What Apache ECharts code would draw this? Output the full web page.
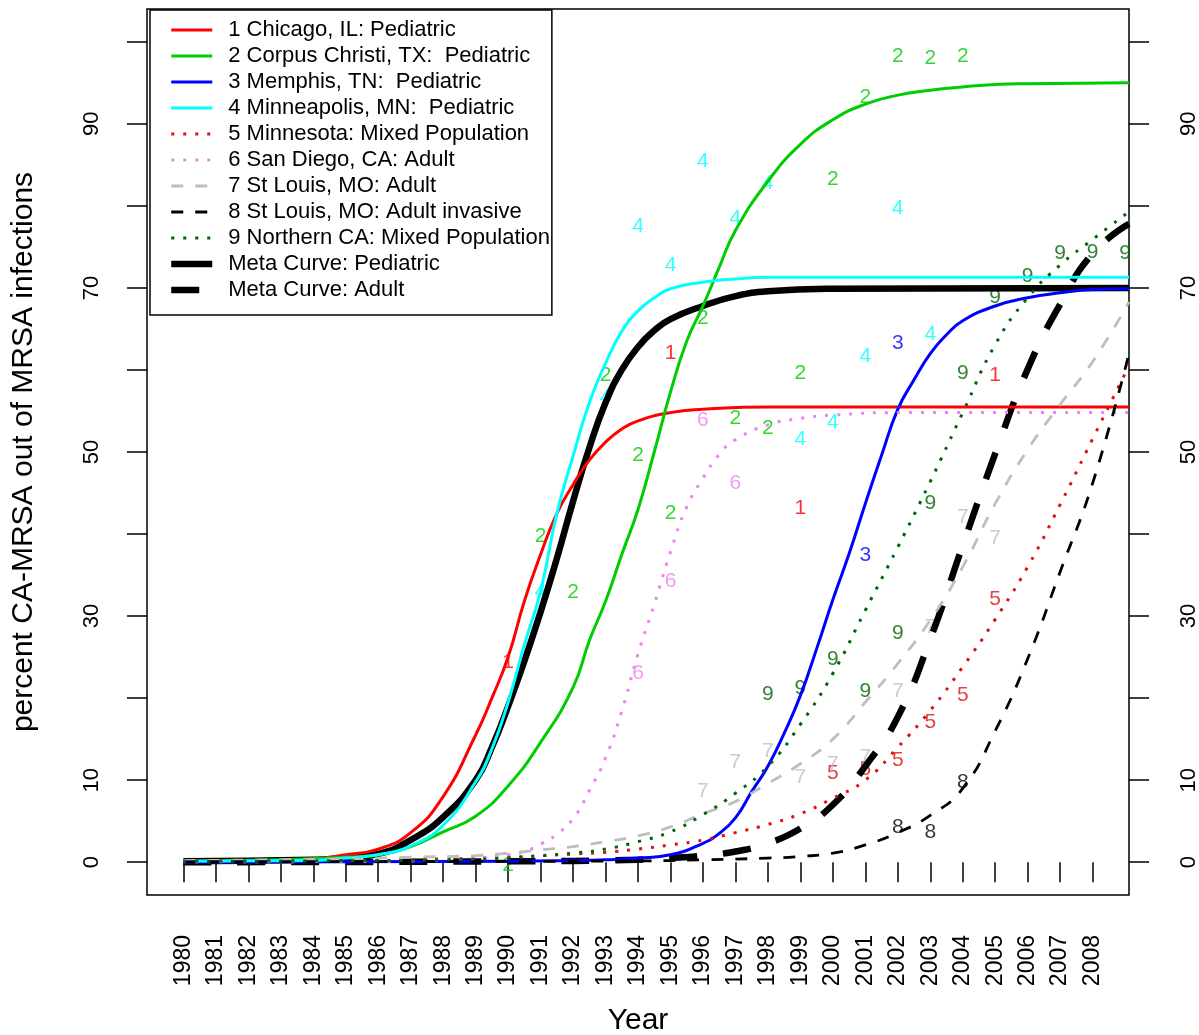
<!DOCTYPE html>
<html>
<head>
<meta charset="utf-8">
<script src="https://cdn.jsdelivr.net/npm/echarts@6/dist/echarts.min.js"></script>
<style>
  html, body { margin: 0; padding: 0; background: #fff; }
  #chart { width: 1199px; height: 1035px; }
</style>
</head>
<body>
<div id="chart"></div>
<script>
// ---- tick labels ----
const yearTicks = [1980,1981,1982,1983,1984,1985,1986,1987,1988,1989,1990,1991,1992,1993,1994,1995,1996,1997,1998,1999,2000,2001,2002,2003,2004,2005,2006,2007,2008];
const yTickValues = [0,10,20,30,40,50,60,70,80,90,100];
const yLabelValues = [0,10,30,50,70,90];

// ---- series names ----
const names = [
  '1 Chicago, IL: Pediatric',
  '2 Corpus Christi, TX:  Pediatric',
  '3 Memphis, TN:  Pediatric',
  '4 Minneapolis, MN:  Pediatric',
  '5 Minnesota: Mixed Population',
  '6 San Diego, CA: Adult',
  '7 St Louis, MO: Adult',
  '8 St Louis, MO: Adult invasive',
  '9 Northern CA: Mixed Population',
  'Meta Curve: Pediatric',
  'Meta Curve: Adult'
];

// ---- fitted curves (year, percent) ----
const curve1 = [[1980,0.1],[1982,0.15],[1984,0.4],[1985,0.9],[1986,1.6],[1987,3.6],[1988,8],[1989,15.5],[1989.5,20],[1990,25],[1990.5,31.8],[1991,37.5],[1991.5,42.5],[1992,46],[1992.5,49],[1993,51.2],[1993.5,52.8],[1994,53.8],[1995,54.8],[1996,55.2],[1998,55.5],[2000,55.5],[2009.12,55.5]];
const curve2 = [[1980,0.1],[1983,0.3],[1985,0.6],[1986,0.9],[1987,1.9],[1988,3.7],[1989,5.6],[1990,9.3],[1991,14.6],[1992,21.3],[1992.5,27],[1993,31.8],[1993.5,37.5],[1994,43],[1994.5,50],[1995,57.3],[1995.5,63.5],[1996,67.8],[1996.5,72.5],[1997,77],[1998,83],[1999,87.5],[2000,90.5],[2001,92.4],[2002,93.5],[2003,94.1],[2004,94.5],[2005,94.8],[2006,94.9],[2009.12,95]];
const curve3 = [[1980,0],[1990,0.1],[1992,0.2],[1993,0.3],[1994,0.5],[1995,0.9],[1996,2.3],[1996.5,3.5],[1997,5.4],[1997.5,8.6],[1998,11.7],[1998.5,15.7],[1999,20.3],[1999.5,26],[2000,32],[2000.5,37.6],[2001,43.7],[2001.5,49.6],[2002,55.2],[2002.5,58.8],[2003,62],[2003.5,64.3],[2004,66],[2005,67.8],[2006,68.8],[2007,69.4],[2008,69.8],[2009.12,69.9]];
const curve4 = [[1980,0.1],[1984,0.2],[1985,0.5],[1986,0.9],[1987,2],[1988,4.5],[1989,9.8],[1989.5,13.8],[1990,19.5],[1990.5,26.5],[1991,33],[1991.5,42.5],[1992,49.5],[1992.5,56],[1993,60.8],[1993.5,64.7],[1994,67.2],[1994.5,68.8],[1995,69.9],[1996,70.7],[1997,71.1],[1998,71.3],[2009.12,71.3]];
const curve5 = [[1980,0.1],[1986,0.2],[1988,0.4],[1990,0.6],[1992,1.0],[1993,1.2],[1994,1.6],[1995,2.1],[1996,2.7],[1997,3.6],[1998,4.6],[1999,5.9],[2000,7.8],[2001,10.0],[2002,14.0],[2003,18.5],[2004,23.8],[2005,29.6],[2006,36.0],[2007,43.6],[2008,51.6],[2009.12,60.5]];
const curve6 = [[1980,0.05],[1986,0.1],[1988,0.3],[1989,0.5],[1990,0.9],[1990.5,1.3],[1991,2.2],[1991.5,3.4],[1992,5.3],[1992.5,8.7],[1993,12.7],[1993.5,18.4],[1994,25.4],[1994.5,31.4],[1995,37.8],[1995.5,43.3],[1996,46.8],[1996.5,49.7],[1997,51.5],[1998,53.3],[1999,54.1],[2000,54.5],[2002,54.8],[2009.12,54.8]];
const curve7 = [[1980,0.2],[1985,0.4],[1987,0.6],[1989,0.8],[1990,1.1],[1991,1.5],[1992,1.9],[1993,2.5],[1994,3.2],[1995,4.3],[1996,5.9],[1997,7.4],[1998,9.6],[1999,12.0],[2000,15.0],[2001,19.5],[2002,24.2],[2003,29.5],[2004,36.0],[2005,43.7],[2006,50.3],[2007,55.8],[2008,61.0],[2009.12,68.3]];
const curve8 = [[1980,0.05],[1990,0.1],[1994,0.15],[1996,0.3],[1998,0.5],[1999,0.7],[2000,1.1],[2001,2.1],[2002,3.6],[2003,5.7],[2004,9.0],[2005,16.0],[2006,24.8],[2007,35.4],[2008,46.2],[2009.12,62]];
const curve9 = [[1980,0.1],[1986,0.2],[1988,0.3],[1990,0.5],[1991,0.8],[1992,1.1],[1993,1.6],[1994,2.5],[1995,3.7],[1996,5.8],[1997,8.4],[1998,11.7],[1999,16.8],[2000,23.0],[2001,30.7],[2002,38.4],[2003,46.4],[2004,54.8],[2005,63.1],[2006,68.8],[2007,72.8],[2008,75.9],[2009.12,79.3]];
const curveMetaPed = [[1980,0.1],[1984,0.3],[1985,0.5],[1986,1.0],[1987,2.7],[1988,5.5],[1989,10],[1989.5,14],[1990,19],[1990.5,24.5],[1991,30.5],[1991.5,37],[1992,44],[1992.5,50.5],[1993,56],[1993.5,60],[1994,62.8],[1994.5,64.8],[1995,66.2],[1996,67.8],[1997,69],[1998,69.6],[2000,69.9],[2009.12,70]];
const curveMetaAdult = [[1980,0],[1990,0.1],[1994,0.3],[1995,0.5],[1996,0.8],[1997,1.3],[1998,2.3],[1999,4.1],[2000,7.0],[2001,11.7],[2002,17.7],[2003,27.2],[2004,38.6],[2005,49.8],[2006,60.1],[2007,68.0],[2008,74.2],[2009.12,77.8]];

// ---- observed study points (year, percent) ----
const pts1 = [[1990,24.4],[1995,62],[1999,43.1],[2005,59.4]];
const pts2 = [[1990,-0.4],[1991,39.7],[1992,32.9],[1993,59.4],[1994,49.6],[1995,42.5],[1996,66.3],[1997,54.1],[1998,52.9],[1999,59.6],[2000,83.3],[2001,93.3],[2002,98.2],[2003,98.0],[2004,98.2]];
const pts3 = [[2001,37.4],[2002,63.3]];
const pts4 = [[1991,33.0],[1993,56.7],[1994,77.5],[1995,72.8],[1996,85.4],[1997,78.5],[1998,82.8],[1999,51.5],[2000,53.6],[2001,61.7],[2002,79.7],[2003,64.3]];
const pts5 = [[2000,10.8],[2001,11.3],[2002,12.4],[2003,17.1],[2004,20.4],[2005,32.0]];
const pts6 = [[1994,23.0],[1995,34.2],[1996,53.9],[1997,46.2]];
const pts7 = [[1996,8.6],[1997,12.2],[1998,13.5],[1999,10.4],[2000,12.0],[2001,12.8],[2002,20.8],[2003,28.7],[2004,42.1],[2005,39.5]];
const pts8 = [[2002,4.3],[2003,3.7],[2004,9.8]];
const pts9 = [[1998,20.5],[1999,21.2],[2000,24.7],[2001,20.8],[2002,27.9],[2003,43.7],[2004,59.6],[2005,68.9],[2006,71.4],[2007,74.2],[2008,74.4],[2009,74.2]];

// ---- styles ----
const FONT = '"Liberation Sans", Arial, sans-serif';
const colors = ['#ff0000','#00cd00','#0000ff','#00ffff','#dd1111','#ee82ee','#bebebe','#000000','#006400','#000000','#000000'];
const curves = [curve1,curve2,curve3,curve4,curve5,curve6,curve7,curve8,curve9,curveMetaPed,curveMetaAdult];
const pts = [pts1,pts2,pts3,pts4,pts5,pts6,pts7,pts8,pts9];
const dotted = [3, 9];
const dashed = [12, 12];
const lineTypes = ['solid','solid','solid','solid',dotted,dotted,dashed,dashed,dotted,'solid',[28,26]];
const widths = [3,3,3,3,3,3,2.8,2.8,3,6.5,6.5];

const series = [];
pts.forEach((p, i) => {
  series.push({
    type: 'scatter',
    data: p,
    symbol: 'circle',
    symbolSize: 1,
    itemStyle: { color: 'rgba(0,0,0,0)' },
    label: {
      show: true, position: 'inside', formatter: String(i + 1),
      color: colors[i], fontSize: 21, fontFamily: FONT, verticalAlign: 'middle', align: 'center'
    },
    silent: true, z: 2, animation: false
  });
});
curves.forEach((c, i) => {
  series.push({
    name: names[i],
    type: 'line',
    data: c,
    symbol: 'none',
    showSymbol: false,
    smooth: 0.5,
    lineStyle: { color: colors[i], width: widths[i], type: lineTypes[i], cap: 'butt' },
    itemStyle: { color: colors[i], opacity: 0 },
    emphasis: { disabled: true },
    silent: true,
    z: i >= 9 ? 3 : 4,
    animation: false
  });
});

const yAxisBase = {
  type: 'value', min: -4, max: 104,
  axisLine: { show: false },
  splitLine: { show: false },
  axisTick: { show: true, length: 20, lineStyle: { color: '#000', width: 1.5 }, customValues: yTickValues },
  axisLabel: { customValues: yLabelValues, rotate: 90, fontSize: 22, color: '#000', fontFamily: FONT }
};

const option = {
  backgroundColor: '#fff',
  animation: false,
  grid: { left: 147, right: 70, top: 9, bottom: 140, show: true, borderColor: '#000', borderWidth: 1.5, backgroundColor: 'transparent', containLabel: false, outerBoundsMode: 'none' },
  legend: {
    data: names,
    orient: 'vertical',
    left: 150, top: 10,
    itemWidth: 41, itemHeight: 14, itemGap: 4,
    padding: [9, 2, 14, 18],
    borderColor: '#000', borderWidth: 1.5, backgroundColor: '#fff',
    itemStyle: { opacity: 0 },
    lineStyle: { width: 'inherit', type: 'inherit' },
    textStyle: { fontSize: 22, fontFamily: FONT, color: '#000', lineHeight: 22, padding: [0, 0, 0, 11] },
    selectedMode: false
  },
  xAxis: {
    type: 'value', min: 1978.88, max: 2009.12,
    axisLine: { show: false },
    splitLine: { show: false },
    axisTick: { show: true, length: 20, lineStyle: { color: '#000', width: 1.5 }, customValues: yearTicks },
    axisLabel: { customValues: yearTicks, rotate: 90, margin: 40, fontSize: 23, color: '#000', fontFamily: FONT, formatter: v => String(v) },
    name: 'Year', nameLocation: 'middle', nameGap: 111,
    nameTextStyle: { fontSize: 30, fontFamily: FONT, color: '#000' }
  },
  yAxis: [
    Object.assign({}, yAxisBase, {
      position: 'left',
      axisLabel: Object.assign({}, yAxisBase.axisLabel, { margin: 44 }),
      name: 'percent CA-MRSA out of MRSA infections', nameLocation: 'middle', nameRotate: 90, nameGap: 108,
      nameTextStyle: { fontSize: 30, fontFamily: FONT, color: '#000' }
    }),
    Object.assign({}, yAxisBase, {
      position: 'right',
      axisLabel: Object.assign({}, yAxisBase.axisLabel, { margin: 49 })
    })
  ],
  series: series
};

const chart = echarts.init(document.getElementById('chart'), null, { renderer: 'canvas' });
chart.setOption(option);
</script>
</body>
</html>
